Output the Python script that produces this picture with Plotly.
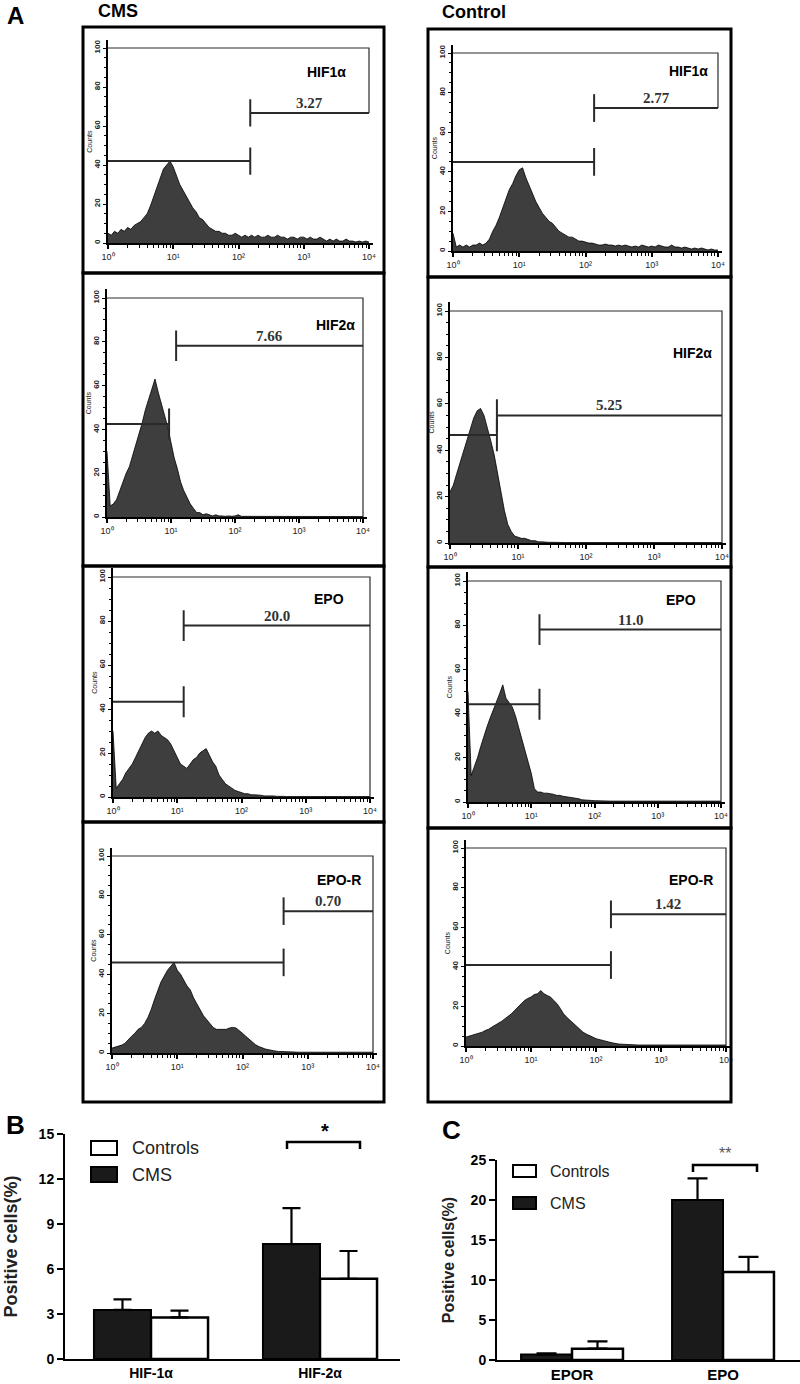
import math
import plotly.graph_objects as go

W, H = 800, 1384
SANS = "Liberation Sans"
SERIF = "Liberation Serif"

# ---------------- data ----------------
# histogram bins: log10 fluorescence, 0..4 in 0.05 steps
BINS = [round(i * 0.05, 2) for i in range(81)]

CMS_HIF1A = [5, 4, 6, 5, 7, 6, 8, 7, 9, 10,
             11, 13, 15, 19, 24, 29, 34, 38, 40, 42,
             39, 35, 30, 27, 24, 21, 18, 16, 13, 12,
             10, 8, 7, 6, 6, 5, 5, 4, 4, 5,
             4, 3, 4, 3, 4, 3, 4, 3, 3, 4,
             3, 3, 4, 3, 3, 2, 3, 3, 2, 3,
             3, 2, 3, 2, 2, 3, 2, 1, 2, 1,
             2, 1, 1, 2, 1, 1, 0.5, 1, 0.5, 1,
             0.5]
CTRL_HIF1A = [9, 2, 3, 2, 3, 2, 3, 3, 4, 3,
              4, 6, 10, 13, 17, 22, 27, 31, 34, 38,
              41, 42, 37, 33, 29, 25, 22, 19, 17, 15,
              14, 12, 10, 9, 8, 7, 7, 6, 5, 5,
              4.5, 4, 4, 3.5, 3, 3, 3.5, 3, 3, 2.5,
              3, 2.5, 3, 2.5, 2, 2.5, 2, 3, 2.5, 2,
              2.5, 2, 3, 2.5, 2, 2, 3, 2, 2, 1.5,
              2, 1.5, 1, 1.5, 1, 1.5, 1, 0.5, 1, 0.5,
              0.5]
CMS_HIF2A = [30, 5, 6, 8, 12, 16, 20, 23, 28, 32,
             38, 43, 49, 54, 58, 63, 57, 52, 47, 41,
             34, 27, 22, 16, 12, 9, 6, 4, 2, 2,
             1, 1.5, 1, 0.5, 1, 0.5, 0.5, 0.3, 0.5, 0.3,
             0.5, 1, 0.3, 0.3, 0.2, 0.5, 0.2, 0.2, 0.2, 0.2,
             0.2, 0.2, 0.2, 0.2, 0.2, 0.2, 0.2, 0.2, 0.2, 0.2,
             0.2, 0.2, 0.2, 0.2, 0.2, 0.2, 0.2, 0.2, 0.2, 0.2,
             0.2, 0.2, 0.2, 0.2, 0.2, 0.2, 0.2, 0.2, 0.2, 0.2,
             0.2]
CTRL_HIF2A = [22, 25, 30, 35, 40, 45, 50, 54, 57, 58,
              55, 50, 44, 38, 30, 22, 14, 8, 5, 3,
              2.5, 2, 2, 1.5, 1, 1, 0.5, 0.5, 0.3, 0.3,
              0.3, 0.2, 0.2, 0.2, 0.2, 0.2, 0.2, 0.2, 0.2, 0.2,
              0.2, 0.2, 0.2, 0.2, 0.2, 0.2, 0.2, 0.2, 0.2, 0.2,
              0.2, 0.2, 0.2, 0.2, 0.2, 0.2, 0.2, 0.2, 0.2, 0.2,
              0.2, 0.2, 0.2, 0.2, 0.2, 0.2, 0.2, 0.2, 0.2, 0.2,
              0.2, 0.2, 0.2, 0.2, 0.2, 0.2, 0.2, 0.2, 0.2, 0.2,
              0.2]
CMS_EPO = [30, 4, 6, 8, 11, 13, 15, 18, 21, 24,
           27, 29, 30, 29, 30, 28, 27, 26, 24, 21,
           18, 15, 14, 13, 15, 17, 18, 20, 21, 22,
           19, 16, 14, 10, 8, 6, 5, 4, 3, 2.5,
           2, 1.5, 1.5, 1, 1, 1, 0.8, 0.5, 0.6, 0.4,
           0.5, 0.3, 0.4, 0.3, 0.2, 0.2, 0.3, 0.2, 0.2, 0.2,
           0.2, 0.2, 0.2, 0.2, 0.2, 0.2, 0.2, 0.2, 0.2, 0.2,
           0.2, 0.2, 0.2, 0.2, 0.2, 0.2, 0.2, 0.2, 0.2, 0.2,
           0.2]
CTRL_EPO = [50, 12, 16, 20, 25, 30, 34, 38, 42, 45,
            49, 53, 47, 45, 43, 39, 34, 29, 23, 18,
            13, 6, 4.5, 4.5, 4, 4, 3.8, 3.5, 3, 3,
            2.6, 2.4, 2.3, 2, 2, 1.5, 1, 0.8, 0.7, 0.7,
            0.6, 0.5, 0.5, 0.4, 0.5, 0.4, 0.4, 0.5, 0.4, 0.4,
            0.4, 0.4, 0.4, 0.4, 0.4, 0.4, 0.4, 0.4, 0.4, 0.4,
            0.4, 0.4, 0.4, 0.4, 0.4, 0.4, 0.4, 0.4, 0.4, 0.4,
            0.4, 0.4, 0.4, 0.4, 0.4, 0.4, 0.4, 0.4, 0.4, 0.4,
            0.4]
CMS_EPOR = [2.5, 3, 3.4, 4, 5, 7, 8.5, 10, 12, 13,
            15, 18, 22, 27, 32, 36, 39, 42, 44, 46,
            42, 40, 37, 34, 32, 28, 25, 22, 19, 17,
            15, 13, 12, 12, 12, 12, 12.7, 13, 12.7, 11.5,
            10, 8.5, 7, 5.5, 4.2, 3.3, 2.5, 2, 1.7, 1.2,
            1, 0.8, 0.8, 0.6, 0.6, 0.5, 0.5, 0.4, 0.5, 0.4,
            0.4, 0.4, 0.4, 0.4, 0.4, 0.4, 0.4, 0.4, 0.4, 0.4,
            0.4, 0.4, 0.4, 0.4, 0.4, 0.4, 0.4, 0.4, 0.4, 0.4,
            0.4]
CTRL_EPOR = [4.5, 5, 5.4, 6, 6.2, 7, 7.9, 8.5, 9.6, 10.5,
             11.3, 12.5, 13.8, 15, 16.3, 18, 19.7, 21.5, 23, 24,
             24.7, 26, 26.4, 28, 26.4, 25.5, 24.7, 23, 21.4, 19,
             16.3, 14.5, 13, 11, 9.6, 8, 7, 6, 5.4, 4.5,
             3.7, 3.2, 2.9, 2.5, 2, 1.6, 1.2, 1, 0.9, 0.8,
             0.5, 0.5, 0.5, 0.5, 0.5, 0.5, 0.5, 0.5, 0.5, 0.5,
             0.5, 0.5, 0.5, 0.5, 0.5, 0.5, 0.5, 0.5, 0.5, 0.5,
             0.5, 0.5, 0.5, 0.5, 0.5, 0.5, 0.5, 0.5, 0.5, 0.5,
             0.5]

HISTS = [CMS_HIF1A, CTRL_HIF1A, CMS_HIF2A, CTRL_HIF2A,
         CMS_EPO, CTRL_EPO, CMS_EPOR, CTRL_EPOR]
MARKERS = ["HIF1α", "HIF1α", "HIF2α", "HIF2α", "EPO", "EPO", "EPO-R", "EPO-R"]
PCT_LABELS = ["3.27", "2.77", "7.66", "5.25", "20.0", "11.0", "0.70", "1.42"]
GATE = [2.18, 2.13, 1.08, 0.69, 1.10, 1.13, 2.63, 2.23]      # M2 start (log10)
M1_END = [2.18, 2.13, 0.97, 0.69, 1.10, 1.13, 2.63, 2.23]    # M1 end (log10)
M1_LEVEL = [42, 45, 42.5, 46.5, 43.3, 44.2, 46, 40.9]
M2_LEVEL = [66.7, 72.2, 78.2, 55, 77.9, 78, 72, 66.5]
ALL_BOTTOM = [66.7, 72.2, 0, 0, 0, 0, 0, 0]

X_TICKS = [0, 1, 2, 3, 4]
X_TICKTEXT = ["10⁰", "10¹", "10²", "10³", "10⁴"]
Y_TICKS = [0, 20, 40, 60, 80, 100]

# bar panels
B_CATS = ["HIF-1α", "HIF-2α"]
B_CMS = [3.27, 7.66]
B_CMS_ERR = [0.7, 2.4]
B_CTRL = [2.77, 5.35]
B_CTRL_ERR = [0.45, 1.85]
B_YTICKS = [0, 3, 6, 9, 12, 15]

C_CATS = ["EPOR", "EPO"]
C_CMS = [0.70, 20.0]
C_CMS_ERR = [0.12, 2.7]
C_CTRL = [1.42, 11.0]
C_CTRL_ERR = [0.9, 1.9]
C_YTICKS = [0, 5, 10, 15, 20, 25]

# ---------------- layout helpers (pixel geometry) ----------------
def px(x):
    return x / W

def py(y):
    return 1 - y / H

HIST_GEOM = [(108, 369, 243, 48), (453, 718, 251, 53), (107, 363, 517, 298), (450, 722, 543, 311),
             (113, 370, 797, 577), (468, 721, 802, 581), (112, 373, 1053, 856), (466, 726, 1046, 848)]
LABEL_POS = [(3.68, 87.7), (3.88, 91), (3.9, 87.7), (3.88, 82),
             (3.63, 90), (3.64, 91.4), (3.85, 88), (3.83, 84)]
XR = [0, 4.06]
YR = [0, 104]
TICK_HALF = 7

fig = go.Figure()
layout_axes = {}
annotations = []
shapes = []

minor_x = sorted(set(round(d + math.log10(m), 4) for d in range(4) for m in range(2, 10)))

for i, (x0, x4, y0, y100) in enumerate(HIST_GEOM):
    k = i + 1
    xname = "x" if k == 1 else f"x{k}"
    yname = "y" if k == 1 else f"y{k}"
    ppx = (x4 - x0) / 4
    ppy = (y0 - y100) / 100
    layout_axes["xaxis" if k == 1 else f"xaxis{k}"] = dict(
        domain=[px(x0), px(x0 + ppx * XR[1])], range=XR, anchor=yname, automargin=False,
        showgrid=False, zeroline=False, showline=True, linecolor="black", linewidth=2,
        ticks="outside", ticklen=4, tickwidth=1.5, tickcolor="black",
        tickvals=X_TICKS, ticktext=X_TICKTEXT,
        tickfont=dict(family=SANS, size=9, color="#222"),
        minor=dict(tickvals=minor_x, ticks="outside", ticklen=2.5, tickwidth=1, tickcolor="black"),
    )
    layout_axes["yaxis" if k == 1 else f"yaxis{k}"] = dict(
        domain=[py(y0), py(y0 - ppy * YR[1])], range=YR, anchor=xname, automargin=False,
        showgrid=False, zeroline=False, showline=True, linecolor="black", linewidth=1.5,
        ticks="outside", ticklen=3, tickwidth=1.2, tickcolor="black",
        tickvals=Y_TICKS, tickangle=-90,
        tickfont=dict(family=SANS, size=8, color="#222", weight="bold"),
        minor=dict(dtick=5, ticks="outside", ticklen=2, tickwidth=1, tickcolor="black"),
        title=dict(text="Counts", font=dict(family=SANS, size=7, color="#222"), standoff=0),
    )
    fig.add_trace(go.Scatter(
        x=BINS, y=HISTS[i], xaxis=xname, yaxis=yname, mode="lines",
        line=dict(color="black", width=0.8), fill="tozeroy", fillcolor="#3e3e3e",
        showlegend=False, hoverinfo="skip"))
    g, e1, m1, m2, ab = GATE[i], M1_END[i], M1_LEVEL[i], M2_LEVEL[i], ALL_BOTTOM[i]
    gx = [0, e1, None, e1, e1, None, g, 4, None, g, g]
    gy = [m1, m1, None, m1 - TICK_HALF, m1 + TICK_HALF, None, m2, m2, None, m2 - TICK_HALF, m2 + TICK_HALF]
    fig.add_trace(go.Scatter(x=gx, y=gy, xaxis=xname, yaxis=yname, mode="lines",
                             line=dict(color="#2a2a2a", width=2), showlegend=False, hoverinfo="skip"))
    fig.add_trace(go.Scatter(x=[0, 4, 4], y=[100, 100, ab], xaxis=xname, yaxis=yname, mode="lines",
                             line=dict(color="#2a2a2a", width=1.2), showlegend=False, hoverinfo="skip"))
    annotations.append(dict(xref=xname, yref=yname, x=(g + 4) / 2, y=m2, text=f"<b>{PCT_LABELS[i]}</b>",
                            showarrow=False, yanchor="bottom", xanchor="center",
                            font=dict(family=SERIF, size=15, color="#333")))
    lx, ly = LABEL_POS[i]
    annotations.append(dict(xref=xname, yref=yname, x=lx, y=ly, text=f"<b>{MARKERS[i]}</b>",
                            showarrow=False, yanchor="middle", xanchor="right",
                            font=dict(family=SANS, size=14, color="black")))

# panel frames
for xs, ys in [((83, 384), (27, 273, 566, 822, 1102)), ((428, 731), (29, 277, 567, 828, 1102))]:
    for a, b in zip(ys[:-1], ys[1:]):
        shapes.append(dict(type="rect", xref="paper", yref="paper", x0=px(xs[0]), x1=px(xs[1]),
                           y0=py(b), y1=py(a), line=dict(color="black", width=3)))

# ---------------- bar panels ----------------
def bar_panel(k, cats, cms, cms_err, ctrl, ctrl_err, yt, xdom, ydom, xr, yr, capw, tickfs, catfs,
              title_fs, standoff):
    xname, yname = f"x{k}", f"y{k}"
    fig.add_trace(go.Bar(x=cats, y=cms, xaxis=xname, yaxis=yname, name="CMS",
                         marker=dict(color="#1a1a1a", line=dict(color="black", width=2)),
                         error_y=dict(type="data", symmetric=False, array=cms_err, arrayminus=[0] * len(cms),
                                      color="black", thickness=2.2, width=capw),
                         showlegend=False))
    fig.add_trace(go.Bar(x=cats, y=ctrl, xaxis=xname, yaxis=yname, name="Controls",
                         marker=dict(color="white", line=dict(color="black", width=2.5)),
                         error_y=dict(type="data", symmetric=False, array=ctrl_err, arrayminus=[0] * len(ctrl),
                                      color="black", thickness=2.2, width=capw),
                         showlegend=False))
    layout_axes[f"xaxis{k}"] = dict(domain=xdom, range=xr, anchor=yname, automargin=False,
                                    showgrid=False, zeroline=False,
                                    showline=True, linecolor="black", linewidth=2, ticks="",
                                    tickfont=dict(family=SANS, size=catfs, color="black", weight="bold"))
    layout_axes[f"yaxis{k}"] = dict(domain=ydom, range=yr, anchor=xname, automargin=False,
                                    showgrid=False, zeroline=False,
                                    showline=True, linecolor="black", linewidth=2, ticks="outside",
                                    ticklen=6, tickwidth=2, tickcolor="black", tickvals=yt,
                                    tickfont=dict(family=SANS, size=tickfs, color="black", weight="bold"),
                                    title=dict(text="Positive cells(%)", standoff=standoff,
                                               font=dict(family=SANS, size=title_fs, color="#222",
                                                         weight="bold")))

# B: axis x 65..400 px, categories at 151 & 320 px; y 0 at 1359, 15 at 1134
bx0, bx1, bc0, bc1 = 65, 400, 151, 320
bu = bc1 - bc0
bar_panel(9, B_CATS, B_CMS, B_CMS_ERR, B_CTRL, B_CTRL_ERR, B_YTICKS,
          [px(bx0), px(bx1)], [py(1359), py(1134)],
          [(bx0 - bc0) / bu, (bx1 - bc0) / bu], [0, 15], 9, 14, 14, 18, 16)
# C: axis x 497..800 px, categories at 572 & 723 px; y 0 at 1360, 25 at 1160
cx0, cx1, cc0, cc1 = 497, 800, 572, 723
cu = cc1 - cc0
bar_panel(10, C_CATS, C_CMS, C_CMS_ERR, C_CTRL, C_CTRL_ERR, C_YTICKS,
          [px(cx0), px(cx1)], [py(1360), py(1160)],
          [(cx0 - cc0) / cu, (cx1 - cc0) / cu], [0, 25], 10, 14, 15, 16, 12)

# legends (manual)
for (x0, x1, y0, y1, fill, label, tx, ty, fs) in [
        (91, 117, 1141, 1155, "white", "Controls", 130, 1148, 18),
        (91, 117, 1167, 1182, "#1a1a1a", "CMS", 130, 1175, 18),
        (513, 536, 1165, 1177, "white", "Controls", 548, 1171, 16),
        (513, 536, 1197, 1209, "#1a1a1a", "CMS", 548, 1203, 16)]:
    shapes.append(dict(type="rect", xref="paper", yref="paper", x0=px(x0), x1=px(x1), y0=py(y1), y1=py(y0),
                       fillcolor=fill, line=dict(color="black", width=2)))
    annotations.append(dict(xref="paper", yref="paper", x=px(tx), y=py(ty), text=label, showarrow=False,
                            xanchor="left", yanchor="middle", font=dict(family=SANS, size=fs, color="#222")))

# significance brackets
for (xa, xb, yt, yb, txt, tx, ty, fs, col) in [
        (287, 360, 1142, 1149, "<b>*</b>", 325, 1131, 20, "black"),
        (693, 757, 1165, 1172, "**", 725, 1153, 16, "#555")]:
    shapes.append(dict(type="path", xref="paper", yref="paper",
                       path=f"M {px(xa)} {py(yb)} L {px(xa)} {py(yt)} L {px(xb)} {py(yt)} L {px(xb)} {py(yb)}",
                       line=dict(color="black", width=2.5)))
    annotations.append(dict(xref="paper", yref="paper", x=px(tx), y=py(ty), text=txt, showarrow=False,
                            xanchor="center", yanchor="middle", font=dict(family=SANS, size=fs, color=col)))

# panel letters and column headings
for (txt, x, y, fs) in [("A", 15, 15, 24), ("B", 15, 1125, 26), ("C", 452, 1130, 26),
                        ("CMS", 118, 11, 18), ("Control", 474, 12, 18)]:
    annotations.append(dict(xref="paper", yref="paper", x=px(x), y=py(y), text=f"<b>{txt}</b>",
                            showarrow=False, xanchor="center", yanchor="middle",
                            font=dict(family=SANS, size=fs, color="black")))

fig.update_layout(
    width=W, height=H, margin=dict(l=0, r=0, t=0, b=0, pad=0, autoexpand=False),
    paper_bgcolor="white", plot_bgcolor="white",
    barmode="group", bargap=0.325, bargroupgap=0,
    annotations=annotations, shapes=shapes, showlegend=False,
    **layout_axes,
)

fig.write_html("out.html", include_plotlyjs=True, full_html=True,
               config={"responsive": False, "displayModeBar": False},
               post_script="document.body.style.margin='0';document.documentElement.style.overflow='hidden';")
